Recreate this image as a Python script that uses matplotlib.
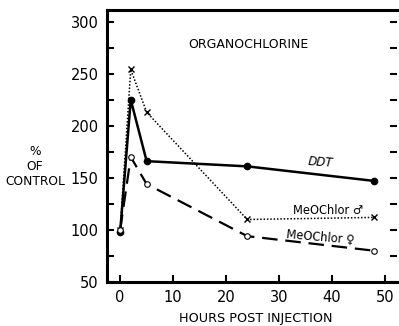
import numpy as np
import matplotlib.pyplot as plt

# valores (% do controle)
hours = [0, 2, 5, 24, 48]
ddt = [98, 225, 166, 161, 147]
meo_male = [100, 254, 213, 110, 112]
meo_female = [100, 170, 144, 94, 80]

fig = plt.figure(figsize=(3.99, 3.26), dpi=100)
ax = fig.add_axes([0.268, 0.135, 0.727, 0.834])

ax.plot(hours, ddt, color='black', lw=1.8, marker='o', ms=4.5, mfc='black')
ax.plot(hours, meo_male, color='black', lw=1.1, ls=(0, (1, 1.2)),
        marker='x', ms=4, mew=1.0)
ax.plot(hours, meo_female, color='black', lw=1.6, ls=(0, (7, 3.5)),
        marker='o', ms=4, mfc='white', mew=0.8)

ax.set_xlim(-2.5, 52.3)
ax.set_ylim(50, 311)
ax.set_xticks([0, 10, 20, 30, 40, 50])
ax.set_yticks([50, 100, 150, 200, 250, 300])
ax.set_yticks(np.arange(75, 300, 50), minor=True)
ax.tick_params(direction='in', length=5, width=1.5, labelsize=10.5, pad=6)
ax.tick_params(which='minor', direction='in', length=5, width=1.5)
ax.tick_params(axis='y', right=True, which='both')

for s in ['left', 'bottom', 'top']:
    ax.spines[s].set_linewidth(2.2)
ax.spines['right'].set_visible(False)

ax.text(24.3, 278, 'ORGANOCHLORINE', fontsize=9, ha='center', va='center')
ax.text(37.8, 165, 'DDT', fontsize=8.5, ha='center', va='center',
        style='italic', rotation=-4)
ax.text(39.3, 119, 'MeOChlor ♂', fontsize=8.3, ha='center', va='center')
ax.text(37.8, 93, 'MeOChlor ♀', fontsize=8.3, ha='center', va='center',
        rotation=-5)

fig.text(0.088, 0.49, '%\nOF\nCONTROL', fontsize=8.8, ha='center', va='center',
         linespacing=1.2)
fig.text(0.64, 0.024, 'HOURS POST INJECTION', fontsize=9.2, ha='center',
         va='center')

fig.savefig('out.png', dpi=100)
